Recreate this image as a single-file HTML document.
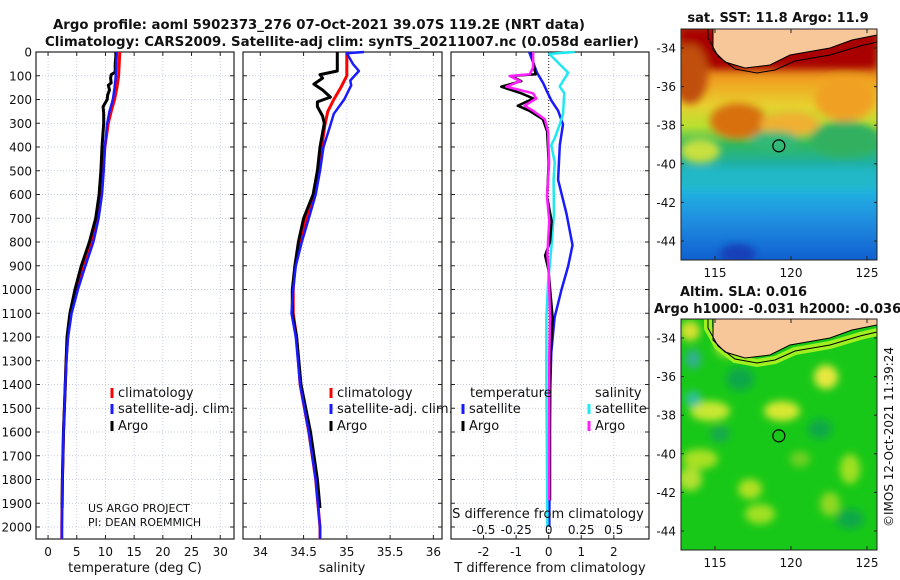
<!DOCTYPE html>
<html><head><meta charset="utf-8"><style>
html,body{margin:0;padding:0;background:#fff;}
svg{display:block;font-family:"DejaVu Sans","Liberation Sans",sans-serif;}
</style></head><body>
<svg id="fig" width="900" height="580" viewBox="0 0 900 580" xmlns="http://www.w3.org/2000/svg">
<defs>
<linearGradient id="sstGrad" x1="0" y1="0" x2="0" y2="1">
<stop offset="0" stop-color="#b03000"/><stop offset="0.12" stop-color="#c85a10"/>
<stop offset="0.22" stop-color="#f0a020"/><stop offset="0.33" stop-color="#e8d030"/>
<stop offset="0.42" stop-color="#b8e030"/><stop offset="0.5" stop-color="#30b860"/>
<stop offset="0.58" stop-color="#20b0a0"/><stop offset="0.68" stop-color="#20b8e0"/>
<stop offset="0.82" stop-color="#2090e0"/><stop offset="1" stop-color="#1060d0"/>
</linearGradient>
<filter id="blur4"><feGaussianBlur stdDeviation="4"/></filter>
<clipPath id="clipTop"><rect x="681" y="29" width="196" height="231"/></clipPath>
<clipPath id="clipBot"><rect x="681" y="319" width="196" height="231"/></clipPath>
</defs>
<g id="titles"></g>
<g id="panels"></g>
<g id="maps"></g>
</svg>
<script>
// ---------- data ----------
const tickDepths = [0,100,200,300,400,500,600,700,800,900,1000,1100,1200,1300,1400,1500,1600,1700,1800,1900,2000];
const tempTicks = [0,5,10,15,20,25,30];
const salTicks = [34,34.5,35,35.5,36];
const salTickLabels = ["34","34.5","35","35.5","36"];
const tdiffTicks = [-2,-1,0,1,2];
const sdiffTicks = [-0.5,-0.25,0,0.25,0.5];
const sdiffTickLabels = ["-0.5","-0.25","0","0.25","0.5"];

const climDepths = [0,50,100,150,200,250,300,400,500,600,700,800,900,1000,1100,1200,1300,1400,1500,1600,1700,1800,1900,2000,2050];
const climT = [12.5,12.4,12.3,12.0,11.6,11.0,10.5,9.9,9.6,9.2,8.6,7.5,6.0,4.9,4.0,3.4,3.15,3.0,2.85,2.7,2.6,2.5,2.45,2.4,2.4];
const satT  = [12.0,11.9,11.8,11.6,11.3,10.7,10.3,9.9,9.7,9.4,8.8,7.9,6.5,5.2,4.1,3.5,3.2,3.0,2.85,2.7,2.6,2.5,2.45,2.4,2.4];
const argoTDepths = [0,20,50,85,95,110,130,140,160,180,200,230,260,300,400,500,600,700,800,900,1000,1100,1200,1400,1600,1800,1920];
const argoT = [11.8,11.8,11.7,11.7,11.0,10.9,11.0,10.5,10.7,10.4,10.3,9.6,9.7,9.7,9.4,9.2,8.9,8.3,7.2,5.8,4.7,3.8,3.3,3.0,2.7,2.5,2.45];

const climSDepths = [0,100,150,200,250,300,400,500,600,700,800,900,1000,1100,1200,1400,1600,1800,2000,2050];
const climS = [35.0,35.0,34.93,34.85,34.78,34.75,34.71,34.68,34.62,34.53,34.46,34.40,34.38,34.38,34.42,34.46,34.56,34.64,34.69,34.69];
const satSDepths = [0,5,50,80,120,140,200,260,320,400,500,600,700,800,900,1000,1100,1200,1400,1600,1800,2000,2050];
const satS = [35.2,35.0,35.07,35.14,35.04,35.05,34.97,34.85,34.80,34.73,34.69,34.64,34.56,34.48,34.41,34.38,34.36,34.41,34.46,34.56,34.64,34.69,34.69];
const argoSDepths = [0,80,95,110,135,160,190,210,230,270,300,400,500,600,700,800,900,1000,1100,1200,1400,1600,1800,1920];
const argoS = [34.89,34.89,34.69,34.72,34.62,34.72,34.81,34.66,34.66,34.72,34.74,34.69,34.66,34.61,34.50,34.44,34.40,34.37,34.37,34.42,34.47,34.58,34.66,34.69];

const dTDepths = [0,87,131,167,204,247,305,392,538,683,813,901,1002,1118,1264,1409,1554,2000];
const satTdiff = [-0.6,-0.36,-0.17,-0.05,0.08,0.29,0.44,0.34,0.29,0.55,0.73,0.6,0.39,0.18,0.08,0.05,0.03,0.02];
const dSDepths = [0,8,87,145,174,262,305,363,392,465,538,683,828,973,1118,1409,2000];
const satSdiff = [0.2,0.005,0.15,0.085,0.12,0.11,0.085,0.046,0.02,0.046,0.038,0.04,0.02,-0.005,-0.018,-0.018,-0.01];
const argoDDepths = [0,65,94,101,123,146,174,196,226,247,283,334,464,610,712,799,857,915,1118,1300,1600,1888];
const argoTdiff = [-0.52,-0.45,-0.4,-1.15,-0.84,-1.46,-0.84,-0.47,-0.95,-0.6,-0.18,-0.05,0.0,-0.05,0.09,0.04,-0.11,-0.01,0.12,0.05,0.04,0.04];
const argoSdiff = [-0.12,-0.12,-0.145,-0.3,-0.22,-0.325,-0.12,-0.095,-0.185,-0.12,-0.03,-0.005,0.003,-0.013,0.005,-0.005,-0.01,0.0,0.01,0.004,0.004,0.004];

// ---------- helpers ----------
const NS = "http://www.w3.org/2000/svg";
function mk(tag, attrs, parent){ const e=document.createElementNS(NS,tag); for(const k in attrs) e.setAttribute(k,attrs[k]); if(parent) parent.appendChild(e); return e; }
function txt(parent, s, x, y, size, anchor, weight){ const t=mk('text',{x:x,y:y,'font-size':size,'text-anchor':anchor||'middle','fill':'#111'},parent); if(weight) t.setAttribute('font-weight',weight); t.textContent=s; return t; }

const Y0 = 52, YS = 0.2375, YB = 539;
function yScale(d){ return Y0 + d*YS; }
const panels = [
  {name:'temperature-panel', x0:36, x1:234, xmin:-2.1, xmax:32.4},
  {name:'salinity-panel', x0:243, x1:442, xmin:33.80, xmax:36.10},
  {name:'difference-panel', x0:451, x1:649, xmin:-3.0, xmax:3.08}
];
panels.forEach(p=>{ p.x = v => p.x0 + (v-p.xmin)/(p.xmax-p.xmin)*(p.x1-p.x0); });
function sdX(v){ return panels[2].x(0) + v*130; }

const T = document.getElementById('titles');
const t1 = txt(T,"Argo profile: aoml 5902373_276 07-Oct-2021 39.07S 119.2E (NRT data)",319,29,13,'middle','bold');
t1.setAttribute('textLength','532'); t1.setAttribute('lengthAdjust','spacingAndGlyphs');
 
const t2 = txt(T,"Climatology: CARS2009. Satellite-adj clim: synTS_20211007.nc (0.058d earlier)",342,46,13,'middle','bold');
t2.setAttribute('textLength','594'); t2.setAttribute('lengthAdjust','spacingAndGlyphs');
 

const P = document.getElementById('panels');
function line(g, xs, ds, xf, color, w, name){
  const pts = ds.map((d,i)=> xf(xs[i]).toFixed(1)+','+yScale(d).toFixed(1)).join(' ');
  const pl = mk('polyline',{points:pts,fill:'none',stroke:color,'stroke-width':w,'stroke-linejoin':'round'},g);
  
  
  return pl;
}
panels.forEach((p,pi)=>{
  const g = mk('g',{},P);
  
  
  const grid = mk('g',{stroke:'#b4bce0','stroke-width':0.7,'stroke-dasharray':'1,2'},g);
  
  
  tickDepths.forEach(d=>{ mk('line',{x1:p.x0,x2:p.x1,y1:yScale(d),y2:yScale(d)},grid);
    mk('line',{x1:p.x0,x2:p.x0+4,y1:yScale(d),y2:yScale(d),stroke:'#222','stroke-dasharray':'none'},g);
    mk('line',{x1:p.x1-4,x2:p.x1,y1:yScale(d),y2:yScale(d),stroke:'#222'},g); });
  const xt = pi==0?tempTicks:(pi==1?salTicks:tdiffTicks);
  xt.forEach((v,i)=>{ const x=p.x(v); mk('line',{x1:x,x2:x,y1:Y0,y2:YB},grid);
    mk('line',{x1:x,x2:x,y1:YB-4,y2:YB,stroke:'#222'},g); mk('line',{x1:x,x2:x,y1:Y0,y2:Y0+4,stroke:'#222'},g);
    const lab = pi==1?salTickLabels[i]:String(v);
    const tl = txt(g,lab,x,556,12);
    
     });
  const frame = mk('rect',{x:p.x0,y:Y0,width:p.x1-p.x0,height:YB-Y0,fill:'none',stroke:'#222','stroke-width':1.2},g);
  
  
  p.g = g;
});
tickDepths.forEach(d=>{ const tl=txt(P,String(d),32,yScale(d)+4.5,12,'end');
  
   });
[["temperature (deg C)",135,'temperature-axis-title'],["salinity",342,'salinity-axis-title'],["T difference from climatology",550,'t-difference-axis-title']].forEach(a=>{
  const tl=txt(P,a[0],a[1],572,13);   });

const p1=panels[0],p2=panels[1],p3=panels[2];
line(p1.g, climT, climDepths, p1.x, '#ff0000', 3, 'climatology-temperature-line');
line(p1.g, argoT, argoTDepths, p1.x, '#000000', 3, 'argo-temperature-line');
line(p1.g, satT, climDepths, p1.x, '#1a1aff', 2.5, 'satellite-temperature-line');
line(p2.g, climS, climSDepths, p2.x, '#ff0000', 3, 'climatology-salinity-line');
line(p2.g, argoS, argoSDepths, p2.x, '#000000', 3, 'argo-salinity-line');
line(p2.g, satS, satSDepths, p2.x, '#1a1aff', 2.5, 'satellite-salinity-line');
const zl = mk('line',{x1:p3.x(0),x2:p3.x(0),y1:Y0,y2:YB,stroke:'#222','stroke-dasharray':'1,2','stroke-width':1},p3.g);


line(p3.g, satTdiff, dTDepths, p3.x, '#1a1aff', 2.5, 'satellite-t-difference-line');
line(p3.g, satSdiff, dSDepths, sdX, '#20e8f0', 2.5, 'satellite-s-difference-line');
line(p3.g, argoTdiff, argoDDepths, p3.x, '#000000', 2.5, 'argo-t-difference-line');
line(p3.g, argoSdiff, argoDDepths, sdX, '#ff20ff', 2.5, 'argo-s-difference-line');

sdiffTicks.forEach((v,i)=>{ const tl=txt(p3.g,sdiffTickLabels[i],sdX(v),534,12);
  
   });
const sdt = txt(p3.g,"S difference from climatology",548,518,13);



function legendEntry(g, x, y, color, label){
  const e = mk('g',{},g);
  
  
  mk('rect',{x:x-1.5,y:y-9,width:3,height:10,fill:color},e);
  txt(e,label,x+6,y,13,'start');
}
[[112,p1.g],[331,p2.g]].forEach(a=>{
  legendEntry(a[1],a[0],397,'#ff0000','climatology');
  legendEntry(a[1],a[0],413,'#1a1aff','satellite-adj. clim.');
  legendEntry(a[1],a[0],430,'#000','Argo');
});
const lt = txt(p3.g,"temperature",470,397,13,'start');  
const ls = txt(p3.g,"salinity",595,397,13,'start');  
legendEntry(p3.g,463,413,'#1a1aff','satellite');
legendEntry(p3.g,463,430,'#000','Argo');
legendEntry(p3.g,589,413,'#20e8f0','satellite');
legendEntry(p3.g,589,430,'#ff20ff','Argo');
const pi1 = txt(p1.g,"US ARGO PROJECT",88,512,11,'start');  
const pi2 = txt(p1.g,"PI: DEAN ROEMMICH",88,526,11,'start');  

// ---------- maps ----------
const M = document.getElementById('maps');
function lonX(l){ return 715 + (l-115)*15.2; }
const landPts = "713,0 713,50 725,62 745,68 770,65 790,55 830,48 852,40 877,35 877,0";
const shelfPts = "708,0 708,38 718,56 735,69 757,73 775,70 795,61 830,55 860,46 877,42";
function drawMap(top, name, isSST){
  const g = mk('g',{},M);
  
  
  const off = top - 29;
  const inner = mk('g',{'clip-path': isSST?'url(#clipTop)':'url(#clipBot)'},g);
  if(isSST){
    mk('rect',{x:681,y:top,width:196,height:231,fill:'url(#sstGrad)'},inner);
    const bl = mk('g',{filter:'url(#blur4)'},inner);
    mk('rect',{x:681,y:top,width:196,height:40,fill:'#a80000'},bl);
    mk('ellipse',{cx:690,cy:top+45,rx:18,ry:30,fill:'#c05010'},bl);
    mk('ellipse',{cx:738,cy:top+92,rx:28,ry:18,fill:'#d87010'},bl);
    mk('ellipse',{cx:790,cy:top+95,rx:30,ry:12,fill:'#f0b030'},bl);
    mk('ellipse',{cx:845,cy:top+70,rx:30,ry:22,fill:'#f0a020'},bl);
    mk('ellipse',{cx:845,cy:top+110,rx:35,ry:18,fill:'#30b060'},bl);
    mk('ellipse',{cx:775,cy:top+112,rx:25,ry:10,fill:'#30b878'},bl);
    mk('ellipse',{cx:700,cy:top+122,rx:20,ry:12,fill:'#c8e040'},bl);
    mk('rect',{x:681,y:top+140,width:196,height:20,fill:'#20b8c8'},bl);
    mk('ellipse',{cx:738,cy:top+225,rx:18,ry:10,fill:'#1840b8'},bl);
  } else {
    mk('rect',{x:681,y:top,width:196,height:231,fill:'#18c818'},inner);
    const bl = mk('g',{filter:'url(#blur4)'},inner);
    [[826,top+58,12,12,'#e8e840'],[782,top+92,18,10,'#d8e830'],[710,top+92,20,10,'#c8e830'],
     [727,top+28,12,10,'#b0e030'],[693,top+80,8,8,'#30c0a0'],[693,top+40,8,10,'#30b090'],
     [700,top+140,18,10,'#a8e020'],[750,top+170,12,10,'#b0e020'],[690,top+160,12,12,'#b0e030'],
     [760,top+195,15,10,'#a0e020'],[850,top+150,10,15,'#a0e020'],[830,top+185,10,12,'#90d820'],
     [690,top+12,10,10,'#d8e030'],[800,top+140,10,8,'#70d020'],[720,top+115,10,8,'#18a850'],
     [740,top+60,14,12,'#10a848'],[820,top+110,12,10,'#10a848'],[850,top+200,14,10,'#10a848']].forEach(b=>{
      mk('ellipse',{cx:b[0],cy:b[1],rx:b[2],ry:b[3],fill:b[4]},bl); });
    mk('polyline',{points:shelfPts,fill:'none',stroke:'#a0f020','stroke-width':8,transform:'translate(0,'+off+')'},inner);
  }
  mk('polygon',{points:landPts,fill:'#f7c79a',stroke:'#000','stroke-width':1,transform:'translate(0,'+off+')'},inner);
  mk('polyline',{points:shelfPts,fill:'none',stroke:'#000','stroke-width':1,transform:'translate(0,'+off+')'},inner);
  const c = mk('circle',{cx:lonX(119.2),cy:top+19 + (39.07-34)*19.3,r:6,fill:'none',stroke:'#000','stroke-width':1.2},g);
  
  
  mk('rect',{x:681,y:top,width:196,height:231,fill:'none',stroke:'#222','stroke-width':1},g);
  [-34,-36,-38,-40,-42,-44].forEach(l=>{ const y = top+19+(-34-l)*19.3;
    mk('line',{x1:681,x2:684,y1:y,y2:y,stroke:'#222'},g); mk('line',{x1:874,x2:877,y1:y,y2:y,stroke:'#222'},g);
    const tl=txt(g,String(l),676,y+4.5,12,'end');
    
     });
  [115,120,125].forEach(l=>{ const x=lonX(l);
    mk('line',{x1:x,x2:x,y1:top+227,y2:top+231,stroke:'#222'},g); mk('line',{x1:x,x2:x,y1:top,y2:top+4,stroke:'#222'},g);
    const tl=txt(g,String(l),x,top+248,12);
    
     });
  return g;
}
drawMap(29,'sst-map',true);
drawMap(319,'sla-map',false);
const mt1 = txt(M,"sat. SST: 11.8 Argo: 11.9",778,22,13,'middle','bold');  
const mt2 = txt(M,"Altim. SLA: 0.016",680,296,13,'start','bold');  
const mt3 = txt(M,"Argo h1000: -0.031 h2000: -0.036",654,313,13,'start','bold');  
const cr = txt(M,"©IMOS 12-Oct-2021 11:39:24",0,0,12,'middle');
cr.setAttribute('transform','translate(893,437) rotate(-90)');
 
</script>
</body></html>
